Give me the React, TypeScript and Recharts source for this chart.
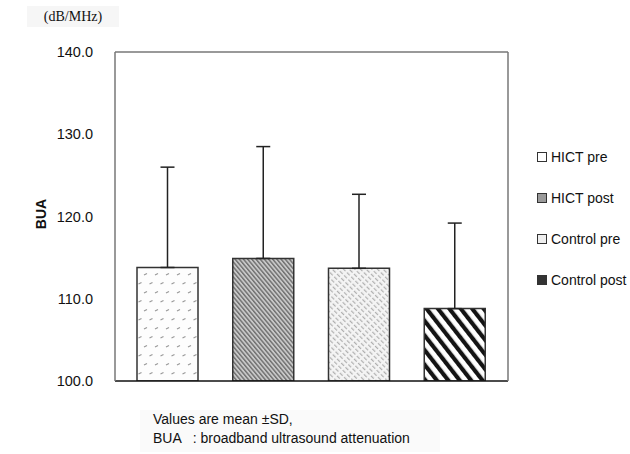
import React from 'react';
import { BarChart, Bar, XAxis, YAxis, Cell, ErrorBar } from 'recharts';

const groups = ['HICT pre', 'HICT post', 'Control pre', 'Control post'];
const means = [113.8, 114.9, 113.7, 108.8];
const sds = [12.2, 13.6, 9.0, 10.4];
const yTicks = [100, 110, 120, 130, 140];
const patterns = ['p-dots', 'p-grey', 'p-light', 'p-black'];
const legendIcons = ['#ffffff', '#9a9a9a', '#eeeeee', '#333333'];

const data = groups.map((g, i) => ({ group: g, mean: means[i], sd: [0, sds[i]] }));

const font = '"Liberation Sans", Arial, sans-serif';

export default function App() {
  return (
    <div style={{ position: 'absolute', left: 0, top: 0, width: 630, height: 454, background: '#fff', overflow: 'hidden' }}>
      <div
        style={{
          position: 'absolute',
          left: 27,
          top: 6,
          width: 92,
          height: 21,
          background: '#f6f6f6',
          fontFamily: '"Liberation Serif", serif',
          fontSize: 14,
          textAlign: 'center',
          lineHeight: '21px',
          color: '#111',
        }}
      >
        (dB/MHz)
      </div>
      <div
        style={{
          position: 'absolute',
          left: 26,
          top: 206,
          transform: 'rotate(-90deg)',
          fontFamily: font,
          fontWeight: 'bold',
          fontSize: 14,
          color: '#111',
        }}
      >
        BUA
      </div>
      <BarChart width={630} height={454} data={data} margin={{ top: 51, right: 121, bottom: 72, left: 55 }}>
        <defs>
          <pattern id="p-dots" width="11" height="18" patternUnits="userSpaceOnUse">
            <rect width="11" height="18" fill="#fdfdfd" />
            <path d="M1 5 L4 3.5 M6.5 14 L9.5 12.5" stroke="#999" strokeWidth="1.2" />
          </pattern>
          <pattern id="p-grey" width="3.2" height="3.2" patternUnits="userSpaceOnUse" patternTransform="rotate(-40)">
            <rect width="3.2" height="3.2" fill="#c8c8c8" />
            <rect width="1.4" height="3.2" fill="#6e6e6e" />
          </pattern>
          <pattern id="p-light" width="4" height="6" patternUnits="userSpaceOnUse" patternTransform="rotate(-45)">
            <rect width="4" height="6" fill="#f4f4f4" />
            <rect width="1.2" height="4" fill="#b0b0b0" />
          </pattern>
          <pattern id="p-black" width="9" height="9" patternUnits="userSpaceOnUse" patternTransform="rotate(-38)">
            <rect width="9" height="9" fill="#ffffff" />
            <rect width="4.2" height="9" fill="#141414" />
          </pattern>
        </defs>
        <XAxis
          dataKey="group"
          tick={false}
          tickLine={false}
          height={1}
          padding={{ left: 5, right: 5 }}
          axisLine={{ stroke: '#111', strokeWidth: 1.5 }}
        />
        <XAxis
          xAxisId="top"
          orientation="top"
          dataKey="group"
          tick={false}
          tickLine={false}
          height={1}
          axisLine={{ stroke: '#777', strokeWidth: 1.5 }}
        />
        <YAxis
          domain={[100, 140]}
          ticks={yTicks}
          tickFormatter={(v: number) => v.toFixed(1)}
          width={60}
          tickLine={false}
          tickSize={0}
          tickMargin={22}
          axisLine={{ stroke: '#777', strokeWidth: 1.5 }}
          tick={{ fill: '#111', fontSize: 14.5, fontFamily: font }}
          allowDataOverflow
        />
        <YAxis
          yAxisId="right"
          orientation="right"
          domain={[100, 140]}
          width={1}
          tick={false}
          tickLine={false}
          axisLine={{ stroke: '#777', strokeWidth: 1.5 }}
        />
        <Bar dataKey="mean" barSize={61} isAnimationActive={false} stroke="#333" strokeWidth={1.5}>
          {data.map((d, i) => (
            <Cell key={d.group} fill={`url(#${patterns[i]})`} />
          ))}
          <ErrorBar dataKey="sd" direction="y" width={7} stroke="#222" strokeWidth={1.5} isAnimationActive={false} />
        </Bar>
      </BarChart>
      <div style={{ position: 'absolute', left: 537, top: 136, fontFamily: font, fontSize: 14, color: '#111' }}>
        {groups.map((g, i) => (
          <div key={g} style={{ display: 'flex', alignItems: 'center', height: 41, whiteSpace: 'nowrap' }}>
            <span
              style={{
                width: 8,
                height: 8,
                border: '1px solid #333',
                background: legendIcons[i],
                marginRight: 4,
                display: 'inline-block',
              }}
            />
            {g}
          </div>
        ))}
      </div>
      <div
        style={{
          position: 'absolute',
          left: 140,
          top: 410,
          width: 300,
          height: 42,
          background: '#fafafa',
          fontFamily: font,
          fontSize: 14,
          lineHeight: '19px',
          color: '#111',
          paddingLeft: 13,
          boxSizing: 'border-box',
          whiteSpace: 'pre',
        }}
      >
        {'Values are mean \u00b1SD,\nBUA   : broadband ultrasound attenuation'}
      </div>
    </div>
  );
}
